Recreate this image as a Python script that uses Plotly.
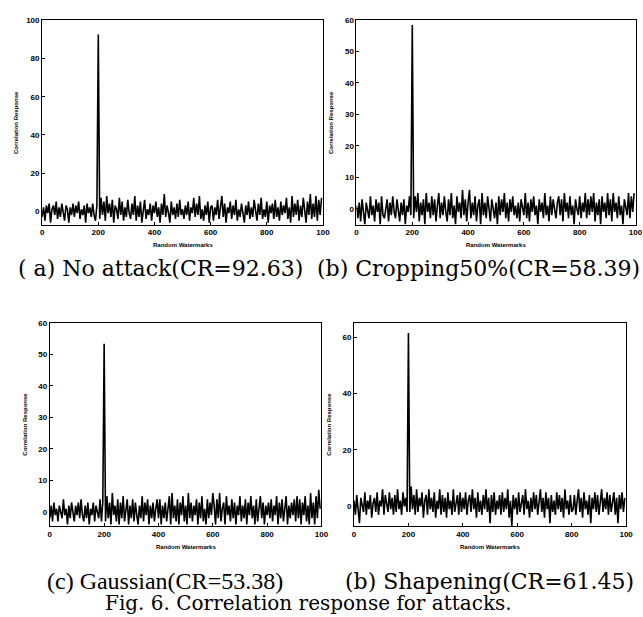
import plotly.graph_objects as go

# Sample positions (random watermark index), every 5th watermark
watermarks = list(range(0, 1000, 5))

resp_a = [-3, 2, -5, 3, -1, 4, -6, 1, 3, -2, 5, -4, 2, -3, 4, -1, -5, 3, 1, -6,
          2, -2, 4, -3, 3, -1, 5, -4, 1, -2, 3, -6, 4, -1, 2, -3, 4, -2, -5, 3,
          92.63,
          -4, 7, -2, 5, -5, 8, -1, 4, -3, 6, -6, 3, 1, -4, 7, -2, 5, -5, 2, -3,
          6, -1, -4, 4, -2, 8, -5, 3, -3, 5, -6, 2, 6, -4, 1, -2, 4, -5, 3, -1,
          5, -3, 2, -6, 4, -2, 9, -3, 3, -1, -6, 5, -2, 2, -4, 4, -3, 6, -2, 1,
          -4, 3, -2, 5, -5, 2, -1, 7, -3, 4, -2, 8, -4, 1, -5, 3, -2, 5, -6, 2,
          3, -5, 2, -2, 6, -4, 1, 8, -3, 4, -6, 2, -1, 5, -4, 3, -2, 6, -5, 1,
          -3, 4, -1, -6, 3, -2, 5, -4, 2, -3, 6, -1, -5, 4, -2, 7, -4, 1, -3, 5,
          -6, 3, -1, 4, -4, 6, -3, 2, -5, 5, -2, 3, -1, 7, -4, 2, -6, 8, -3, 4,
          -2, 6, -5, 3, -3, 7, -1, -6, 5, -2, 9, -4, 4, -3, 8, -5, 6, -2, 7]

resp_b = [1, -3, 2, -4, 3, -1, -5, 2, 0, -3, 4, -2, 1, -4, 3, -1, 2, -5, 4, -2,
          -3, 1, 3, -4, 2, -2, 4, -1, -3, 3, 0, -4, 2, -2, 3, -5, 1, -1, 4, -2,
          58.39,
          -3, 4, -1, 5, -4, 2, -2, 3, -5, 5, -1, 2, -3, 4, -2, 3, -4, 1, 5, -3,
          2, -2, 4, -1, -4, 3, -2, 5, -3, 1, -5, 4, -1, 2, -3, 6, -2, 3, -4, 2,
          6, -3, 2, -2, 4, -4, 1, 3, -5, 5, -2, 2, -3, 4, -1, -4, 3, 0, -3, 2,
          -5, 4, -2, 3, -1, 5, -3, 2, -4, 3, -1, 4, -2, 1, -3, 2, -4, 3, 0, -2,
          5, -3, 2, -4, 3, -1, 4, -2, 1, -5, 3, -1, 2, -3, 5, -2, 1, -4, 4, -2,
          3, -1, -3, 2, 4, -2, 3, -4, 5, -1, 2, -3, 4, -2, 1, -5, 3, 0, -2, 4,
          -3, 2, -1, 5, -3, 3, -2, 4, -1, 5, -4, 2, -2, 3, -5, 4, -1, 2, -3, 5,
          -2, 3, -4, 5, -1, 2, -3, 4, -2, 1, -5, 3, 0, -2, 5, -3, 4, -1, 5]

resp_c = [-2, 2, -3, 3, -1, 1, -3, 2, 0, -2, 4, -1, 1, -4, 2, -2, 3, 0, -3, 2,
          -1, 3, -2, 4, -1, -3, 2, -2, 3, -4, 1, -1, 3, -3, 2, 0, -2, 4, -3, 3,
          53.38,
          -3, 5, -2, 3, -4, 6, -1, 2, -3, 4, -4, 3, -2, 5, -3, 1, 4, -4, 2, -2,
          4, -3, 3, -1, -4, 2, -2, 5, -3, 3, -1, 4, -4, 2, -2, 3, -3, 1, 4, -2,
          4, -4, 2, -2, 3, -3, 1, 5, -4, 6, -2, 2, -3, 4, -4, 3, -1, 5, -3, 2,
          -4, 6, -2, 3, -3, 2, -1, 4, -4, 3, -2, 5, -3, 1, -4, 4, -2, 3, -1, 6,
          2, -4, 4, -2, 6, -3, 1, 3, -4, 5, -1, 2, -3, 4, -2, 3, -4, 2, -1, 5,
          -3, 2, -2, 4, -4, 3, -1, 5, -2, 2, -4, 4, -3, 1, 5, -2, 3, -4, 2, -1,
          3, -2, 4, -3, 2, -1, 5, -4, 3, -2, 4, -3, 1, 5, -4, 2, -2, 3, -1, 4,
          -3, 5, -2, 4, -4, 3, -1, 5, -3, 2, -4, 6, -2, 3, -4, 5, -2, 7, 1]

resp_d = [2, -3, 4, -1, -6, 3, 1, -2, 5, -3, 2, -1, 4, -4, 1, 3, -2, 5, -3, 2,
          0, 6, -3, 4, 1, -2, 5, -1, 3, -3, 4, -2, 6, -1, 2, -3, 5, 0, 3, -2,
          61.45,
          -2, 7, -1, 4, -3, 6, -2, 3, 0, 5, -4, 2, 4, -3, 6, -1, 3, -2, 5, -4,
          2, -1, 6, -3, 4, -2, 3, -4, 5, -1, 2, -3, 6, -2, 1, 4, -3, 5, -2, 3,
          -1, 5, -3, 2, 4, -2, 6, -1, 3, -4, 5, -2, 2, -3, 4, -1, 6, -2, 3, -6,
          4, -2, 5, -3, 2, -1, 4, -3, 5, -2, 3, -1, 6, -4, 2, -7, 4, -1, 3, -3,
          5, -2, 1, 4, -3, 6, -1, 2, -4, 3, -2, 5, -1, 4, -3, 2, 6, -2, 3, -4,
          5, -1, 3, -6, 4, -2, 2, -3, 5, -1, 4, -2, 3, -4, 6, -1, 2, -3, 4, -2,
          -1, 4, -3, 2, 6, -2, 3, -4, 5, -1, 2, -3, 4, -6, 3, -1, 5, -2, 4, -3,
          2, 6, -2, 3, -1, 5, -3, 4, -2, 1, 5, -3, 3, -6, 4, -1, 5, -2, 3]

captions = ["( a) No attack(CR=92.63)", "(b) Cropping50%(CR=58.39)",
            "(c) Gaussian(CR=53.38)", "(b) Shapening(CR=61.45)"]
fig_caption = "Fig. 6. Correlation response for attacks."
x_title = "Random Watermarks"
y_title = "Correlation Response"

x_tickvals = [0, 200, 400, 600, 800, 1000]
x_ticktext = ["0", "200", "400", "600", "800", "100"]

y_ranges = [[-7, 100], [-5, 60], [-4.5, 60], [-7, 65]]
y_ticks = [[0, 20, 40, 60, 80, 100], [0, 10, 20, 30, 40, 50, 60],
           [0, 10, 20, 30, 40, 50, 60], [0, 20, 40, 60]]

W, H = 643, 617
# panel boxes in pixels: (left, right, top, bottom)
boxes = [(40.7, 325.5, 16.5, 222), (359.5, 642.5, 16, 222),
         (48.5, 324, 321, 525.5), (357, 633, 321, 525.5)]

series = [resp_a, resp_b, resp_c, resp_d]

fig = go.Figure()
tickfont = dict(family="Liberation Sans", size=8, color="black", weight="bold")
annotations = []
for k in range(4):
    l, r, t, b = boxes[k]
    xa = "x" if k == 0 else f"x{k+1}"
    ya = "y" if k == 0 else f"y{k+1}"
    fig.add_trace(go.Scatter(x=watermarks, y=series[k], mode="lines",
                             line=dict(color="black", width=1.6),
                             xaxis=xa, yaxis=ya, showlegend=False))
    xkey = "xaxis" if k == 0 else f"xaxis{k+1}"
    ykey = "yaxis" if k == 0 else f"yaxis{k+1}"
    fig.layout[xkey] = dict(domain=[l / W, r / W], anchor=ya, range=[0, 1000],
                            tickvals=x_tickvals, ticktext=x_ticktext,
                            showline=True, linecolor="black", linewidth=1, mirror=True,
                            ticks="inside", ticklen=3, tickcolor="black",
                            showgrid=False, zeroline=False, tickfont=tickfont)
    fig.layout[ykey] = dict(domain=[1 - b / H, 1 - t / H], anchor=xa, range=y_ranges[k],
                            tickvals=y_ticks[k],
                            showline=True, linecolor="black", linewidth=1, mirror=True,
                            ticks="inside", ticklen=3, tickcolor="black",
                            showgrid=False, zeroline=False, tickfont=tickfont)
    annotations.append(dict(text=x_title, x=(l + r) / 2 / W, y=1 - (b + 21) / H,
                            xref="paper", yref="paper", showarrow=False,
                            xanchor="center", yanchor="middle",
                            font=dict(family="Liberation Sans", size=6, color="black", weight="bold")))
    annotations.append(dict(text=y_title, x=(l - 26) / W, y=1 - (t + b) / 2 / H,
                            xref="paper", yref="paper", showarrow=False, textangle=-90,
                            xanchor="center", yanchor="middle",
                            font=dict(family="Liberation Sans", size=6, color="black", weight="bold")))

cap_pos = [(161, 266), (483, 266), (165, 581), (494, 581)]
cap_font = [("DejaVu Serif", 22), ("DejaVu Serif", 22),
            ("Liberation Serif", 24), ("DejaVu Serif", 22)]
for k in range(4):
    cx, cy = cap_pos[k]
    fam, sz = cap_font[k]
    annotations.append(dict(text=captions[k], x=cx / W, y=1 - cy / H,
                            xref="paper", yref="paper", showarrow=False,
                            xanchor="center", yanchor="middle",
                            font=dict(family=fam, size=sz, color="black")))
annotations.append(dict(text=fig_caption, x=311 / W, y=1 - 603 / H,
                        xref="paper", yref="paper", showarrow=False,
                        xanchor="center", yanchor="middle",
                        font=dict(family="DejaVu Serif", size=20, color="black")))

fig.update_layout(width=W, height=H, margin=dict(l=0, r=0, t=0, b=0),
                  paper_bgcolor="white", plot_bgcolor="white",
                  annotations=annotations)

fig.write_html("out.html", config={"displayModeBar": False},
               post_script="document.body.style.margin='0px';"
                           "document.body.style.overflow='hidden';")
